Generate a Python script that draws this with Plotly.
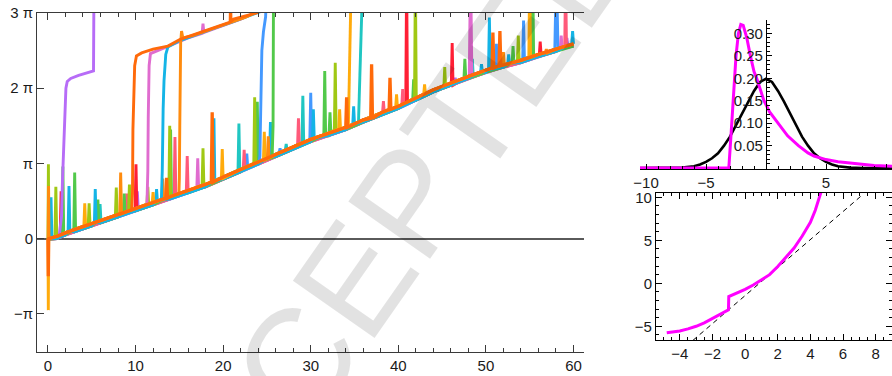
import plotly.graph_objects as go

# ---------------- data (main panel, y in units of pi) ----------------
PI_TICKS = [-1, 0, 1, 2, 3]
PI_TEXT = ["\u2212\u03c0", "0", "\u03c0", "2 \u03c0", "3 \u03c0"]

BASE_X = [0, 1, 2, 3, 4, 5, 6, 8, 10, 12, 14, 16, 18, 20, 22, 24, 26, 28, 30, 32, 34, 36,
          38, 40, 42, 44, 46, 48, 50, 52, 54, 56, 58, 60]
BASE_HI = [0, 0.03, 0.08, 0.12, 0.16, 0.20, 0.24, 0.32, 0.40, 0.48, 0.56, 0.64, 0.72, 0.82,
           0.92, 1.02, 1.12, 1.22, 1.32, 1.40, 1.48, 1.58, 1.67, 1.76, 1.87, 1.98, 2.07,
           2.16, 2.24, 2.31, 2.37, 2.45, 2.52, 2.59]
BASE_LO = [-0.01, 0.0, 0.05, 0.09, 0.13, 0.17, 0.21, 0.29, 0.37, 0.45, 0.53, 0.61, 0.69, 0.79,
           0.89, 0.99, 1.09, 1.19, 1.29, 1.37, 1.45, 1.55, 1.64, 1.73, 1.84, 1.95, 2.04,
           2.13, 2.21, 2.28, 2.34, 2.42, 2.49, 2.56]

# spikes: (x, foot, peak[, half-width])
SPIKES_YELLOWGREEN = [(0.05, 0.0, 0.99, 0.05), (0.9, 0.03, 0.69), (4.7, 0.19, 0.47), (7.8, 0.31, 0.68),
                      (9.3, 0.37, 0.72), (11.4, 0.46, 0.69), (13.9, 0.56, 1.50), (17.7, 0.71, 1.20),
                      (23.6, 1.00, 1.88), (32.8, 1.44, 2.34), (41.95, 1.85, 3.5), (45.3, 2.01, 2.28),
                      (53.7, 2.36, 2.70)]
SPIKES_GREEN = [(1.7, 0.06, 0.96), (3.05, 0.12, 0.88), (5.7, 0.23, 0.52), (8.7, 0.35, 0.60),
                (14.0, 0.56, 1.45), (23.9, 1.02, 1.82), (31.6, 1.38, 2.23), (32.2, 1.41, 1.68),
                (41.75, 1.86, 2.12), (47.6, 2.14, 2.39), (53.1, 2.34, 2.56), (55.35, 2.42, 3.5)]
SPIKES_CYAN = [(0.35, 0.0, 0.55), (2.4, 0.10, 0.70), (5.4, 0.21, 0.66), (12.4, 0.50, 0.66),
               (18.95, 0.76, 1.60), (25.4, 1.09, 1.55), (30.3, 1.33, 1.72), (34.9, 1.52, 1.76),
               (49.5, 2.22, 2.32), (50.4, 2.25, 2.94), (52.6, 2.33, 2.45), (59.9, 2.59, 2.76)]
SPIKES_TEAL = [(5.95, 0.23, 0.46), (21.8, 0.91, 1.53), (27.2, 1.18, 1.26), (29.1, 1.28, 1.90),
               (48.45, 2.17, 2.39)]
SPIKES_RED = [(1.5, 0.05, 0.63), (10.05, 0.40, 0.99), (40.95, 1.80, 3.5), (46.15, 2.04, 2.60),
              (56.2, 2.45, 2.62)]
SPIKES_SALMON = [(9.0, 0.36, 0.60), (14.5, 0.58, 1.35), (15.9, 0.64, 1.10), (22.4, 0.94, 1.18),
                 (28.6, 1.25, 1.60), (38.3, 1.68, 1.83), (40.5, 1.78, 1.99), (59.1, 2.56, 3.5)]
SPIKES_PINK = [(17.1, 0.68, 1.07), (48.25, 2.17, 3.6, 0.15), (58.6, 2.54, 2.70)]
SPIKES_PURPLE = [(10.2, 0.41, 0.63), (46.5, 2.07, 2.14), (59.25, 2.57, 2.67)]
SPIKES_GOLD = [(0.04, 0.0, -0.95, 0.04), (4.2, 0.17, 0.47), (12.0, 0.48, 0.62), (19.9, 0.80, 1.19),
               (24.7, 1.05, 1.42), (33.3, 1.46, 1.72), (39.8, 1.75, 1.92), (43.0, 1.92, 2.05),
               (55.0, 2.41, 3.5)]
SPIKES_ORANGE = [(0.07, 0.0, 0.70, 0.05), (8.3, 0.33, 0.88), (13.1, 0.52, 0.80), (25.15, 1.07, 1.36),
                 (52.0, 2.31, 2.48), (56.9, 2.47, 2.52)]
SPIKES_DARKORANGE = [(0.04, 0.0, -0.50, 0.04), (13.55, 0.54, 0.81), (18.75, 0.75, 1.68),
                     (34.1, 1.48, 1.88), (36.95, 1.60, 2.32), (39.05, 1.72, 2.14),
                     (50.8, 2.27, 2.74), (51.6, 2.30, 2.76)]
SPIKES_BLUE = [(22.7, 0.96, 1.13), (26.5, 1.15, 1.20), (30.0, 1.32, 1.94), (51.2, 2.28, 2.59),
               (54.3, 2.38, 2.90), (58.05, 2.52, 3.6, 0.18)]

# phase jumps (risers)
RISE_PURPLE_X = [1.3, 1.55, 1.65, 1.75, 1.9, 2.05, 2.2, 2.6, 3.5, 4.5, 5.2, 5.25]
RISE_PURPLE_Y = [0.05, 0.3, 0.75, 1.13, 1.6, 2.0, 2.09, 2.13, 2.17, 2.20, 2.23, 3.3]
RISE_PINK_X = [11.3, 11.4, 11.45, 11.55, 11.7, 12.5, 14, 16, 17.6, 17.7, 17.8, 20, 22, 24, 26]
RISE_PINK_Y = [0.45, 0.9, 1.6, 2.3, 2.46, 2.50, 2.57, 2.67, 2.73, 2.86, 2.74, 2.83, 2.92, 3.02, 3.12]
RISE_CYAN_X = [12.95, 13.05, 13.15, 13.25, 13.45, 13.7, 15, 17, 19, 21, 23, 25]
RISE_CYAN_Y = [0.51, 0.9, 1.72, 2.1, 2.45, 2.55, 2.63, 2.72, 2.80, 2.88, 2.96, 3.05]
RISE_ORANGE_X = [14.95, 15.0, 15.05, 15.1, 15.15, 15.25, 15.4, 16.5, 18.5, 20.5, 22.5, 24.5]
RISE_ORANGE_Y = [0.59, 0.8, 1.5, 2.3, 2.6, 2.76, 2.67, 2.70, 2.78, 2.86, 2.94, 3.05]
RISE_BLUE_X = [24.1, 24.2, 24.25, 24.32, 24.42, 24.6, 24.85, 24.95]
RISE_BLUE_Y = [1.01, 1.1, 1.45, 2.1, 2.5, 2.75, 2.95, 3.3]
RISE_GREEN_X = [25.6, 25.7, 25.75]
RISE_GREEN_Y = [1.10, 1.5, 3.3]
RISE_GOLD_X = [34.3, 34.38, 34.45, 34.6]
RISE_GOLD_Y = [1.50, 2.0, 2.9, 3.3]
RISE_TEAL_X = [35.45, 35.5, 35.55, 35.65, 35.9]
RISE_TEAL_Y = [1.53, 1.72, 2.2, 2.6, 3.3]
RISE_DARKORANGE_X = [9.55, 9.65, 9.7, 9.8, 9.9, 10.1, 10.7, 12.0, 13.7, 15.1, 17.4, 19.6, 20.8,
                     20.85, 20.9, 21.2, 23.8, 26.0]
RISE_DARKORANGE_Y = [0.38, 0.6, 1.45, 2.1, 2.3, 2.43, 2.47, 2.52, 2.56, 2.65, 2.74, 2.83, 2.88,
                     3.2, 2.89, 2.92, 3.0, 3.15]

# ---------------- data (top-right panel) ----------------
DIST_X_TICKS = [-10, -5, 5, 10]
DIST_Y_TICKS = [0.05, 0.10, 0.15, 0.20, 0.25, 0.30]
NORMAL_X = [-10.5, -8, -7, -6, -5.5, -5, -4.5, -4, -3.5, -3, -2.5, -2, -1.5, -1, -0.5, 0,
            0.5, 1, 1.5, 2, 2.5, 3, 3.5, 4, 4.5, 5, 5.5, 6, 7, 8, 10.5]
NORMAL_Y = [0, 0, 0.001, 0.004, 0.008, 0.014, 0.022, 0.033, 0.050, 0.070, 0.095, 0.122, 0.148,
            0.172, 0.192, 0.199, 0.192, 0.172, 0.148, 0.122, 0.095, 0.070, 0.050, 0.033, 0.022,
            0.014, 0.008, 0.004, 0.001, 0, 0]
SKEW_X = [-10.5, -3.1, -2.9, -2.7, -2.5, -2.3, -2.1, -1.9, -1.6, -1.3, -1.0, -0.78, -0.5, -0.17,
          0.3, 1.0, 1.8, 2.7, 3.5, 4.0, 5.0, 6.0, 7.0, 8.0, 9.0, 10.5]
SKEW_Y = [0, 0, 0.08, 0.17, 0.25, 0.30, 0.32, 0.318, 0.29, 0.25, 0.215, 0.20, 0.175, 0.15,
          0.125, 0.10, 0.072, 0.05, 0.034, 0.027, 0.019, 0.014, 0.011, 0.008, 0.006, 0.004]

# ---------------- data (bottom-right panel) ----------------
QQ_X = [-4.8, -4.5, -4.0, -3.5, -3.0, -2.5, -2.0, -1.5, -1.02, -1.0, -0.5, 0.0, 0.5, 1.0, 1.5,
        2.0, 2.5, 3.0, 3.5, 4.0, 4.3, 4.65]
QQ_Y = [-5.75, -5.7, -5.55, -5.3, -5.0, -4.6, -4.1, -3.6, -3.1, -1.55, -1.15, -0.7, -0.2, 0.35,
        1.0, 1.95, 3.0, 4.1, 5.5, 7.1, 8.5, 10.6]
REF_X = [-3.2, 7.2]
REF_Y = [-6.65, 10.3]

WATERMARK = "ACCEPTED"

# ---------------- styles ----------------
COL = {
    "yellowgreen": "#a0c814", "green": "#52c94a", "cyan": "#14b4e6", "teal": "#20c6c2",
    "red": "#ff1f35", "salmon": "#ff5a7a", "pink": "#e06ccf", "purple": "#b76cf7",
    "gold": "#ffab0c", "orange": "#ff8b0e", "darkorange": "#ff6a0a", "blue": "#4499ff",
}
LW = 2.9
FONT = "Liberation Sans, Arial, Helvetica, sans-serif"


def spiky(base, spikes, hw=0.1):
    extra = []
    windows = []
    for s in spikes:
        x, foot, peak = s[0], s[1], s[2]
        w = s[3] if len(s) > 3 else hw
        extra += [(x - w, foot), (x, peak), (x + w, foot)]
        windows.append((x - w - 0.05, x + w + 0.05))
    pts = [(bx, by) for bx, by in zip(BASE_X, base)
           if not any(a <= bx <= b for a, b in windows)]
    pts += extra
    pts.sort(key=lambda p: p[0])
    return [p[0] for p in pts], [p[1] for p in pts]


fig = go.Figure()


def add_line(xs, ys, color, width=LW, xa="x", ya="y", dash=None):
    fig.add_trace(go.Scatter(x=xs, y=ys, mode="lines", xaxis=xa, yaxis=ya,
                             line=dict(color=color, width=width, dash=dash),
                             hoverinfo="skip", showlegend=False))


spiky_order = [
    ("blue", BASE_LO, SPIKES_BLUE), ("teal", BASE_HI, SPIKES_TEAL),
    ("purple", BASE_LO, SPIKES_PURPLE), ("pink", BASE_LO, SPIKES_PINK),
    ("red", BASE_HI, SPIKES_RED), ("salmon", BASE_LO, SPIKES_SALMON),
    ("green", BASE_LO, SPIKES_GREEN), ("yellowgreen", BASE_HI, SPIKES_YELLOWGREEN),
    ("cyan", BASE_LO, SPIKES_CYAN), ("gold", BASE_HI, SPIKES_GOLD),
    ("orange", BASE_HI, SPIKES_ORANGE),
]
for name, base, sp in spiky_order:
    xs, ys = spiky(base, sp)
    add_line(xs, ys, COL[name])

for name, xs, ys in [("purple", RISE_PURPLE_X, RISE_PURPLE_Y), ("pink", RISE_PINK_X, RISE_PINK_Y),
                     ("cyan", RISE_CYAN_X, RISE_CYAN_Y), ("orange", RISE_ORANGE_X, RISE_ORANGE_Y),
                     ("blue", RISE_BLUE_X, RISE_BLUE_Y), ("green", RISE_GREEN_X, RISE_GREEN_Y),
                     ("gold", RISE_GOLD_X, RISE_GOLD_Y), ("teal", RISE_TEAL_X, RISE_TEAL_Y),
                     ("darkorange", RISE_DARKORANGE_X, RISE_DARKORANGE_Y)]:
    add_line(xs, ys, COL[name])

xs, ys = spiky(BASE_HI, SPIKES_DARKORANGE)
add_line(xs, ys, COL["darkorange"], width=3.3)

# top-right distributions
add_line(NORMAL_X, NORMAL_Y, "black", width=2.6, xa="x2", ya="y2")
add_line(SKEW_X, SKEW_Y, "#ff00ff", width=3, xa="x2", ya="y2")

# bottom-right
add_line(REF_X, REF_Y, "black", width=1, xa="x3", ya="y3", dash="5px,4px")
add_line(QQ_X, QQ_Y, "#ff00ff", width=3, xa="x3", ya="y3")

AX_COL = "#3a3a3a"
tickfont = dict(family=FONT, size=15, color="#1a1a1a")

main_y = dict(domain=[0.0638, 0.9654], range=[-1.507, 3.0], tickmode="array",
              tickvals=PI_TICKS, ticktext=PI_TEXT, ticks="inside", ticklen=7,
              tickcolor=AX_COL, showline=True, linecolor=AX_COL, linewidth=1,
              showgrid=False, tickfont=tickfont, automargin=False)

fig.update_layout(
    template="none",
    width=892, height=376, margin=dict(l=0, r=0, t=0, b=0, pad=0),
    paper_bgcolor="white", plot_bgcolor="rgba(0,0,0,0)",
    font=dict(family=FONT),
    xaxis=dict(domain=[0.0415, 0.6547], range=[-1.25, 61.2], anchor="y",
               tickmode="linear", tick0=0, dtick=10, ticks="inside", ticklen=7,
               tickcolor=AX_COL, showline=True, linecolor=AX_COL, linewidth=1,
               mirror="ticks", showgrid=False, zeroline=False, tickfont=tickfont,
               automargin=False,
               minor=dict(tick0=0, dtick=2, ticks="inside", ticklen=4, tickcolor=AX_COL)),
    yaxis=dict(anchor="x", zeroline=True, zerolinecolor="#5a5a5a", zerolinewidth=1.6,
               **main_y),
    yaxis4=dict(anchor="x", overlaying="y", side="right", zeroline=False, **main_y),
    xaxis2=dict(domain=[0.7175, 1.0], range=[-10.5, 10.5], anchor="y2",
                tickmode="array", tickvals=DIST_X_TICKS, ticks="inside", ticklen=5,
                tickcolor="black", showline=True, linecolor="black", linewidth=1,
                showgrid=False, zeroline=False, tickfont=tickfont, automargin=False,
                minor=dict(tick0=0, dtick=1, ticks="inside", ticklen=3, tickcolor="black")),
    yaxis2=dict(domain=[0.5505, 0.9468], range=[-0.002, 0.33], anchor="free",
                position=0.8587, side="left", tickmode="array", tickvals=DIST_Y_TICKS,
                ticktext=["0.05", "0.10", "0.15", "0.20", "0.25", "0.30"],
                ticks="inside", ticklen=5, tickcolor="black", showline=True,
                linecolor="black", linewidth=1, showgrid=False, zeroline=False,
                tickfont=tickfont, automargin=False,
                minor=dict(tick0=0, dtick=0.01, ticks="inside", ticklen=3, tickcolor="black")),
    xaxis3=dict(domain=[0.7354, 1.0], range=[-5.46, 9.0], anchor="y3",
                tickmode="linear", tick0=0, dtick=2, ticks="inside", ticklen=6,
                tickcolor="black", showline=True, linecolor="black", linewidth=1,
                mirror="ticks", showgrid=False, zeroline=False, tickfont=tickfont,
                automargin=False,
                minor=dict(tick0=0, dtick=0.5, ticks="inside", ticklen=3, tickcolor="black")),
    yaxis3=dict(domain=[0.0957, 0.4867], range=[-6.6, 10.5], anchor="x3",
                tickmode="linear", tick0=0, dtick=5, ticks="inside", ticklen=6,
                tickcolor="black", showline=True, linecolor="black", linewidth=1,
                mirror="ticks", showgrid=False, zeroline=False, tickfont=tickfont,
                automargin=False,
                minor=dict(tick0=0, dtick=1, ticks="inside", ticklen=3, tickcolor="black")),
    annotations=[dict(text=WATERMARK, xref="paper", yref="paper", x=0.424, y=0.345,
                      xanchor="center", yanchor="middle", showarrow=False, textangle=-55,
                      font=dict(family=FONT, size=145, color="rgba(0,0,0,0.115)"))],
)

fig.write_html("out.html")
